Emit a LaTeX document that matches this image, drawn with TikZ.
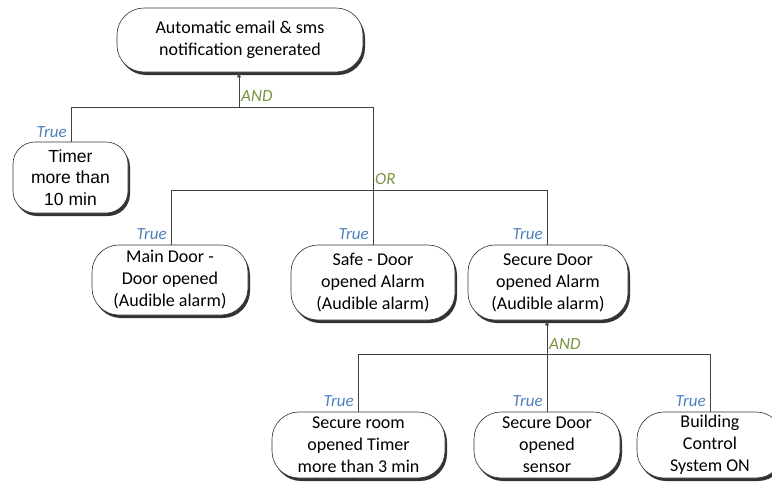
\documentclass[tikz,border=0pt]{standalone}
\usepackage{fontspec}
\setmainfont{Carlito}
\newfontfamily\arialfont{Liberation Sans}
\usetikzlibrary{shadows,arrows.meta}
\definecolor{truec}{HTML}{4F81BD}
\definecolor{logicc}{HTML}{77933C}
\tikzset{
  evbox/.style={draw=black!80, line width=0.6pt, rounded corners=27pt, fill=white,
    drop shadow={shadow xshift=2pt, shadow yshift=-3pt, fill=black!80, opacity=1},
    align=center, inner sep=0pt, font=\fontsize{18}{22}\selectfont},
  conn/.style={draw=black!75, line width=0.6pt},
  arr/.style={conn, -{Latex[length=5pt,width=4pt]}},
  truelbl/.style={font=\fontsize{17}{19}\selectfont\itshape, text=truec, anchor=base east, inner sep=2pt},
  logiclbl/.style={font=\fontsize{17}{19}\selectfont\itshape, text=logicc, anchor=base west, inner sep=2pt}
}
\begin{document}
\begin{tikzpicture}[x=1pt,y=-1pt]
\useasboundingbox (0,0) rectangle (772,482);
\clip (0,0) rectangle (772,482);
% nodes
\node[evbox, minimum width=246pt, minimum height=64pt] (top) at (240,40) {Automatic email \& sms\\notification generated};
\node[evbox, rounded corners=22pt, minimum width=115pt, minimum height=71pt, font=\arialfont\fontsize{17.5}{21.7}\selectfont] (timer) at (70.5,177.5) {Timer\\more than\\10 min};
\node[evbox, minimum width=156pt, minimum height=70pt] (main) at (170,280) {Main Door -\\Door opened\\(Audible alarm)};
\node[evbox, minimum width=164pt, minimum height=75pt] (safe) at (373,282.5) {Safe - Door\\opened Alarm\\(Audible alarm)};
\node[evbox, minimum width=160pt, minimum height=75pt] (secure) at (548,282.5) {Secure Door\\opened Alarm\\(Audible alarm)};
\node[evbox, minimum width=173pt, minimum height=66pt] (room) at (358.5,445) {Secure room\\opened Timer\\more than 3 min};
\node[evbox, minimum width=146pt, minimum height=66pt] (sensor) at (547,445) {Secure Door\\opened\\sensor};
\node[evbox, minimum width=146pt, minimum height=66pt] (bcs) at (710,445) {Building\\Control\\System ON};
% junction coordinates
\coordinate (j1) at (239,107);
\coordinate (j1l) at (71,107);
\coordinate (j1r) at (373,107);
\coordinate (j2) at (373,190);
\coordinate (j2l) at (171,190);
\coordinate (j2r) at (547,190);
\coordinate (j3) at (547,354);
\coordinate (j3l) at (358,354);
\coordinate (j3r) at (710,354);
% connectors
\draw[conn] (timer.north -| j1l) -- (j1l) -- (j1r) -- (j2);
\draw[arr] (j1) -- (top.south -| j1);
\draw[conn] (main.north -| j2l) -- (j2l) -- (j2r) -- (secure.north -| j2r);
\draw[conn] (safe.north) -- (j2);
\draw[conn] (room.north -| j3l) -- (j3l) -- (j3r) -- (bcs.north -| j3r);
\draw[arr] (sensor.north) -- (secure.south -| sensor.north);
% labels
\node[logiclbl] (and1) at (239,101) {AND};
\node[logiclbl] (or1) at (373,184) {OR};
\node[logiclbl] (and2) at (547,349) {AND};
\node[truelbl] (t1) at (69,137) {True};
\node[truelbl] (t2) at (169,239) {True};
\node[truelbl] (t3) at (371,239) {True};
\node[truelbl] (t4) at (545,239) {True};
\node[truelbl] (t5) at (356,406) {True};
\node[truelbl] (t6) at (545,406) {True};
\node[truelbl] (t7) at (708,406) {True};
\end{tikzpicture}
\end{document}
